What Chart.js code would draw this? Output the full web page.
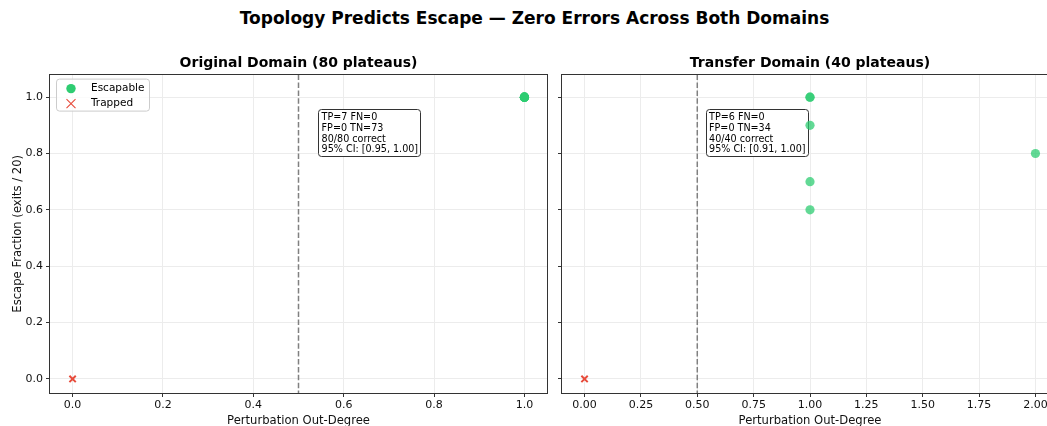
<!DOCTYPE html>
<html lang="en">
<head>
    <meta charset="UTF-8">
    <script src="https://cdn.jsdelivr.net/npm/chart.js@4"></script>
    <title>Topology Predicts Escape</title>
    <style>
        html, body {
            margin: 0;
            padding: 0;
            background: #fff;
            overflow: hidden;
            width: 1047px;
            height: 426px;
        }
        body {
            position: relative;
            font-family: "DejaVu Sans", sans-serif;
        }
        #suptitle {
            position: absolute;
            top: 8px;
            left: 0;
            width: 1069px;
            text-align: center;
            font-weight: bold;
            font-size: 17px;
            line-height: 20px;
            color: #000;
        }
        #leftWrap { position: absolute; left: 0; top: 0; }
        #rightWrap { position: absolute; left: 555px; top: 0; }
    </style>
</head>
<body>
<div id="suptitle">Topology Predicts Escape — Zero Errors Across Both Domains</div>
<div id="leftWrap"><canvas id="origChart" width="560" height="430"></canvas></div>
<div id="rightWrap"><canvas id="transChart" width="520" height="430"></canvas></div>
<script>
    // values
    const origEscDegree = [1, 1, 1, 1, 1, 1, 1];
    const origEscFraction = [1.0, 1.0, 1.0, 1.0, 1.0, 1.0, 1.0];
    const origTrapDegree = [0];
    const origTrapFraction = [0];

    const transEscDegree = [1, 1, 1, 1, 1, 2];
    const transEscFraction = [1.0, 1.0, 0.9, 0.7, 0.6, 0.8];
    const transTrapDegree = [0];
    const transTrapFraction = [0];

    const origStats = ['TP=7 FN=0', 'FP=0 TN=73', '80/80 correct', '95% CI: [0.95, 1.00]'];
    const transStats = ['TP=6 FN=0', 'FP=0 TN=34', '40/40 correct', '95% CI: [0.91, 1.00]'];

    const yTicks = [0, 0.2, 0.4, 0.6, 0.8, 1.0];
    const origXTicks = [0, 0.2, 0.4, 0.6, 0.8, 1.0];
    const transXTicks = [0, 0.25, 0.5, 0.75, 1.0, 1.25, 1.5, 1.75, 2.0];
    const threshold = 0.5;
    const statsAt = [0.55, 0.95];
    const legendLabels = ['Escapable', 'Trapped'];

    const GREEN = '#2ecc71';
    const RED = '#e74c3c';

    Chart.defaults.font.family = "'DejaVu Sans', sans-serif";
    Chart.defaults.color = '#111';

    function toPoints(xs, ys) {
        return xs.map((x, i) => ({x: x, y: ys[i]}));
    }

    function drawCross(ctx, cx, cy, r) {
        ctx.beginPath();
        ctx.moveTo(cx - r, cy - r); ctx.lineTo(cx + r, cy + r);
        ctx.moveTo(cx - r, cy + r); ctx.lineTo(cx + r, cy - r);
        ctx.stroke();
    }

    // threshold line, stats box, legend, frame
    const decor = {
        id: 'decor',
        beforeDatasetsDraw(chart, args, opts) {
            const {ctx, chartArea: a} = chart;
            const xs = chart.scales.x, ys = chart.scales.y;
            ctx.save();

            // dashed threshold
            const tx = xs.getPixelForValue(threshold);
            ctx.strokeStyle = '#808080';
            ctx.lineWidth = 1.5;
            ctx.setLineDash([5.5, 2.4]);
            ctx.beginPath();
            ctx.moveTo(tx, a.top);
            ctx.lineTo(tx, a.bottom);
            ctx.stroke();
            ctx.setLineDash([]);

            // stats box
            ctx.font = '9.6px "DejaVu Sans"';
            const px = xs.getPixelForValue(statsAt[0]) + 0.5;
            const py = ys.getPixelForValue(statsAt[1]);
            const lines = opts.stats;
            const tw = Math.max(...lines.map(t => ctx.measureText(t).width));
            const lh = 10.9;
            const bx = Math.round(px - 3.5) + 0.5, by = Math.round(py - 2.5) + 0.5;
            const bw = Math.round(tw + 6), bh = Math.round(lines.length * lh + 3.5);
            ctx.beginPath();
            ctx.roundRect(bx, by, bw, bh, 3);
            ctx.fillStyle = '#fff';
            ctx.fill();
            ctx.strokeStyle = '#333';
            ctx.lineWidth = 1;
            ctx.stroke();
            ctx.fillStyle = '#000';
            ctx.textBaseline = 'middle';
            lines.forEach((t, i) => ctx.fillText(t, px, py + 6 + i * lh));

            // legend
            if (opts.legend) {
                const lx = a.left + 6.5, ly = a.top + 4.5;
                ctx.beginPath();
                ctx.roundRect(lx, ly, 93, 32, 3);
                ctx.fillStyle = 'rgba(255,255,255,0.8)';
                ctx.fill();
                ctx.strokeStyle = '#cccccc';
                ctx.stroke();
                ctx.font = '10.5px "DejaVu Sans"';
                legendLabels.forEach((t, i) => {
                    const cy = a.top + 14 + i * 15;
                    const cx = a.left + 21;
                    if (i === 0) {
                        ctx.fillStyle = GREEN;
                        ctx.beginPath();
                        ctx.arc(cx, cy, 4.7, 0, Math.PI * 2);
                        ctx.fill();
                    } else {
                        ctx.strokeStyle = RED;
                        ctx.lineWidth = 1.1;
                        drawCross(ctx, cx, cy, 4.5);
                    }
                    ctx.fillStyle = '#000';
                    ctx.fillText(t, a.left + 41, cy);
                });
            }
            ctx.restore();
        },
        afterDraw(chart) {
            const {ctx, chartArea: a} = chart;
            ctx.save();
            ctx.strokeStyle = '#333';
            ctx.lineWidth = 1;
            ctx.strokeRect(Math.round(a.left) - 0.5, Math.round(a.top) - 0.5,
                Math.round(a.right - a.left) + 1, Math.round(a.bottom - a.top) + 1);
            ctx.restore();
        }
    };

    function makeChart(id, spec) {
        return new Chart(document.getElementById(id), {
            type: 'scatter',
            data: {
                datasets: [
                    {
                        label: legendLabels[0],
                        data: toPoints(spec.escX, spec.escY),
                        pointStyle: 'circle',
                        pointRadius: 4.6,
                        pointBackgroundColor: 'rgba(46,204,113,0.75)',
                        pointBorderWidth: 0
                    },
                    {
                        label: legendLabels[1],
                        data: toPoints(spec.trapX, spec.trapY),
                        pointStyle: 'crossRot',
                        pointRadius: 4.5,
                        pointBorderColor: RED,
                        pointBorderWidth: 2
                    }
                ]
            },
            options: {
                responsive: false,
                animation: false,
                events: [],
                layout: {padding: {left: 0, top: 0, right: spec.padRight, bottom: 0}},
                plugins: {
                    legend: {display: false},
                    tooltip: {enabled: false},
                    title: {
                        display: true,
                        text: spec.title,
                        fullSize: false,
                        color: '#000',
                        font: {size: 14, weight: 'bold'},
                        padding: {top: 55, bottom: 2.8}
                    },
                    decor: {stats: spec.stats, legend: spec.legend}
                },
                scales: {
                    x: {
                        type: 'linear',
                        min: spec.xMin,
                        max: spec.xMax,
                        afterBuildTicks: s => { s.ticks = spec.xTicks.map(v => ({value: v})); },
                        afterFit: s => { s.height = 37; },
                        border: {display: false},
                        grid: {color: '#ececec', tickColor: '#333', tickLength: 4},
                        ticks: {
                            padding: 2,
                            maxRotation: 0,
                            font: {size: 11},
                            callback: v => v.toFixed(spec.xDigits)
                        },
                        title: {
                            display: true,
                            text: 'Perturbation Out-Degree',
                            font: {size: 11.6},
                            padding: {top: 0, bottom: 2}
                        }
                    },
                    y: {
                        type: 'linear',
                        min: -0.05,
                        max: 1.08,
                        afterBuildTicks: s => { s.ticks = yTicks.map(v => ({value: v})); },
                        afterFit: s => { s.width = spec.yWidth; },
                        border: {display: false},
                        grid: {color: '#ececec', tickColor: '#333', tickLength: 4},
                        ticks: {
                            display: spec.yLabels,
                            padding: 3,
                            font: {size: 11},
                            callback: v => v.toFixed(1)
                        },
                        title: {
                            display: spec.yLabels,
                            text: 'Escape Fraction (exits / 20)',
                            font: {size: 11.6},
                            padding: {top: 11, bottom: 0}
                        }
                    }
                }
            },
            plugins: [decor]
        });
    }

    makeChart('origChart', {
        title: 'Original Domain (80 plateaus)',
        escX: origEscDegree, escY: origEscFraction,
        trapX: origTrapDegree, trapY: origTrapFraction,
        stats: origStats, legend: true,
        xMin: -0.05, xMax: 1.05, xTicks: origXTicks, xDigits: 1,
        yWidth: 50, yLabels: true, padRight: 13
    });

    makeChart('transChart', {
        title: 'Transfer Domain (40 plateaus)',
        escX: transEscDegree, escY: transEscFraction,
        trapX: transTrapDegree, trapY: transTrapFraction,
        stats: transStats, legend: false,
        xMin: -0.1, xMax: 2.1, xTicks: transXTicks, xDigits: 2,
        yWidth: 7, yLabels: false, padRight: 17
    });
</script>
</body>
</html>
